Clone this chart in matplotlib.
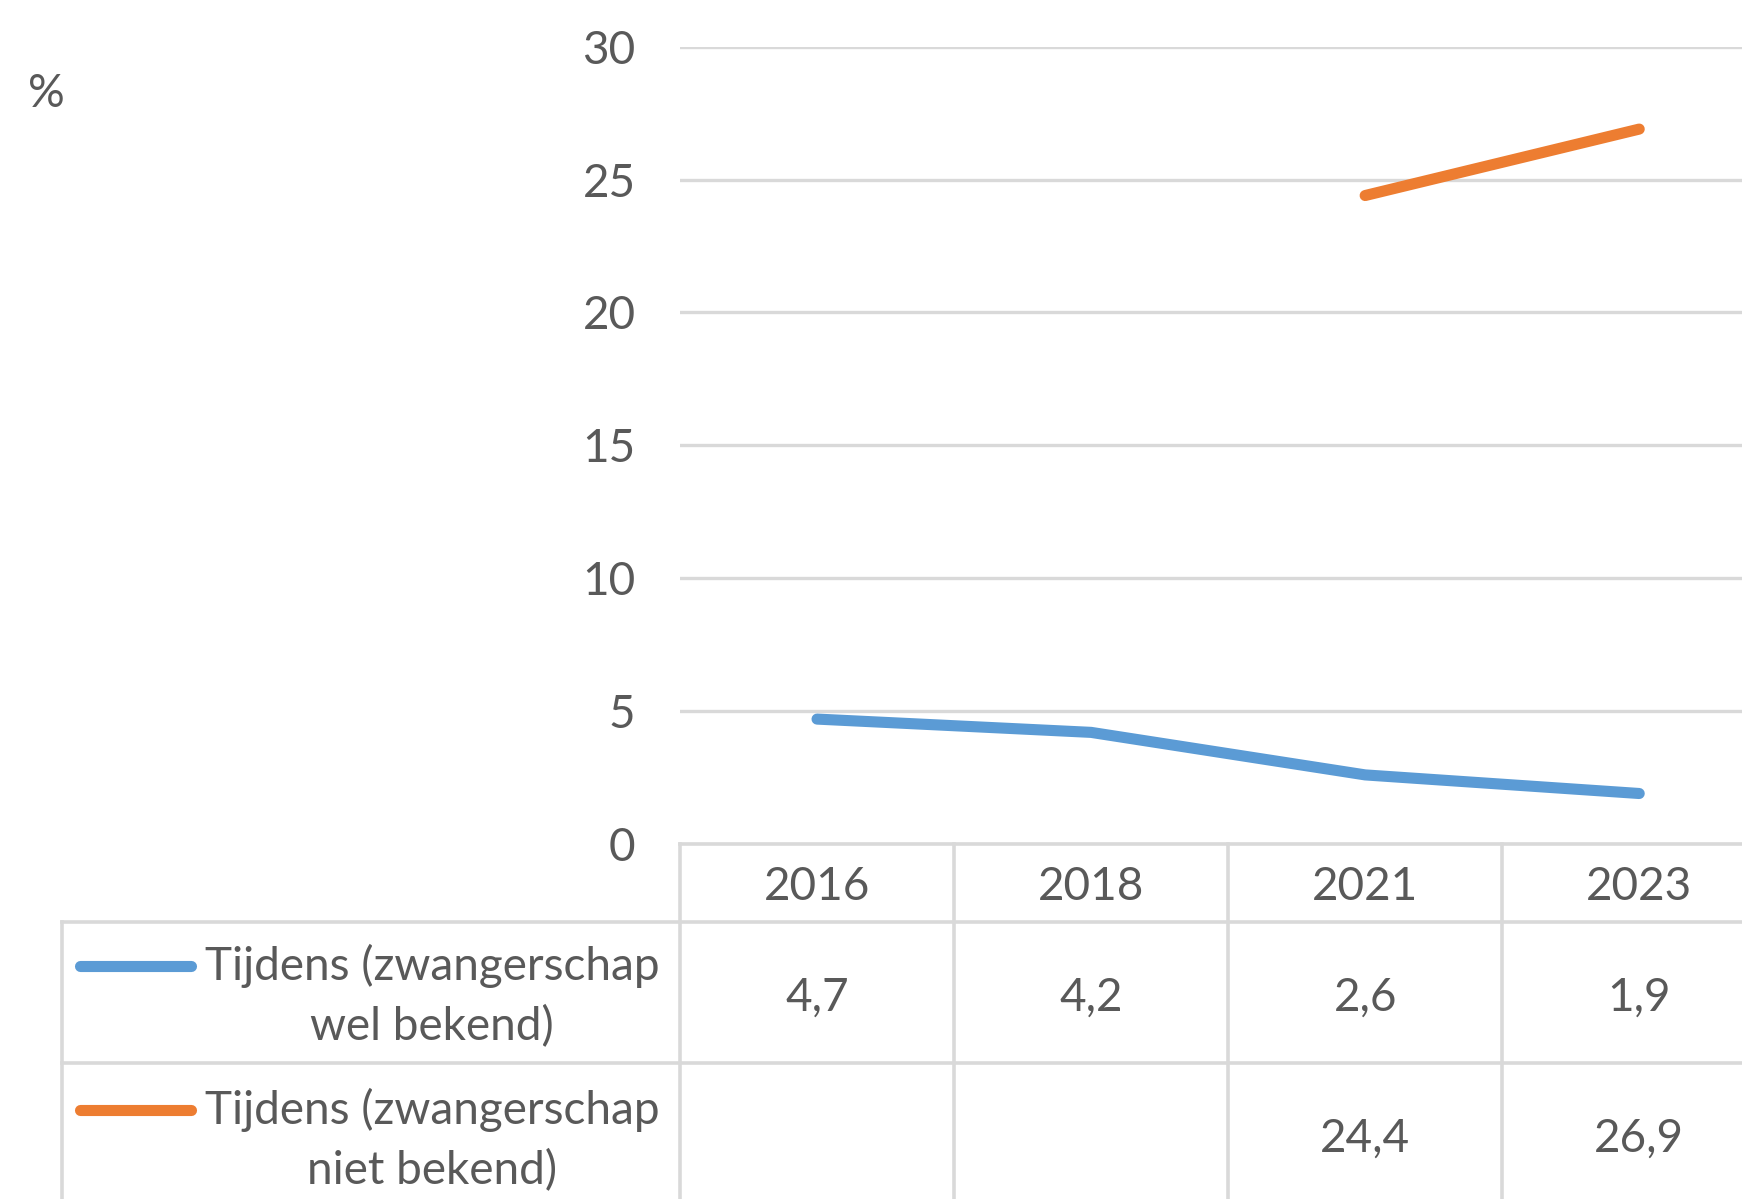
import numpy as np
import matplotlib.pyplot as plt
from matplotlib.transforms import blended_transform_factory
from matplotlib.lines import Line2D

years = ["2016", "2018", "2021", "2023"]
wel_bekend = [4.7, 4.2, 2.6, 1.9]
niet_bekend = [np.nan, np.nan, 24.4, 26.9]
series_labels = ["Tijdens (zwangerschap\nwel bekend)", "Tijdens (zwangerschap\nniet bekend)"]
series_values = [wel_bekend, niet_bekend]
colors = ["#5B9BD5", "#ED7D31"]

plt.rcParams['font.family'] = ['Lato', 'DejaVu Sans']
text_col = "#595959"
grid_col = "#D9D9D9"
fs = 33

W, H = 1742, 1199
fig = plt.figure(figsize=(W / 100, H / 100), dpi=100)


def fx(px):
    return px / W


def fy(px):
    return 1 - px / H


# plot area
ax = fig.add_axes([fx(680), fy(844), 1 - fx(680), fy(46.7) - fy(844)])
x = np.arange(len(years))
for vals, c in zip(series_values, colors):
    ax.plot(x, vals, color=c, lw=8, solid_capstyle="round", zorder=3)

ax.set_xlim(-0.5, 3.375)
ax.set_ylim(0, 30)
ax.set_yticks(range(0, 31, 5))
ax.set_xticks([])
ax.yaxis.grid(True, color=grid_col, lw=2.4)
ax.set_axisbelow(True)
ax.tick_params(axis="y", length=0, pad=32, labelsize=fs, labelcolor=text_col)
for s in ax.spines.values():
    s.set_visible(False)

fig.text(fx(28), fy(94), "%", fontsize=fs, color=text_col, va="center", ha="left")

# data table
trans = blended_transform_factory(ax.transData, fig.transFigure)
lw_tab = 2.6

# horizontal lines
fig.add_artist(Line2D([fx(680), 1], [fy(844), fy(844)], color=grid_col, lw=lw_tab))
for yy in [922, 1063]:
    fig.add_artist(Line2D([fx(62), 1], [fy(yy), fy(yy)], color=grid_col, lw=lw_tab))
# vertical lines
fig.add_artist(Line2D([fx(62), fx(62)], [fy(922), 0], color=grid_col, lw=lw_tab))
for b in x - 0.5:
    fig.add_artist(Line2D([b, b], [fy(844), 0], color=grid_col, lw=lw_tab,
                          transform=trans))

for i, yr in enumerate(years):
    fig.text(i, fy(887), yr, transform=trans, fontsize=fs, color=text_col,
             ha="center", va="center")

row_mid = [998, 1139]
row_first = [966, 1110]
for r, (vals, lab, c) in enumerate(zip(series_values, series_labels, colors)):
    for i, v in enumerate(vals):
        if not np.isnan(v):
            fig.text(i, fy(row_mid[r]), f"{v:.1f}".replace(".", ","), transform=trans,
                     fontsize=fs, color=text_col, ha="center", va="center")
    fig.add_artist(Line2D([fx(80), fx(191)], [fy(row_first[r]), fy(row_first[r])],
                          color=c, lw=8, solid_capstyle="round"))
    fig.text(fx(432), fy(row_first[r] + 30), lab, fontsize=fs, color=text_col,
             ha="center", va="center", multialignment="center", linespacing=1.5)

fig.savefig("out.png", dpi=100)
